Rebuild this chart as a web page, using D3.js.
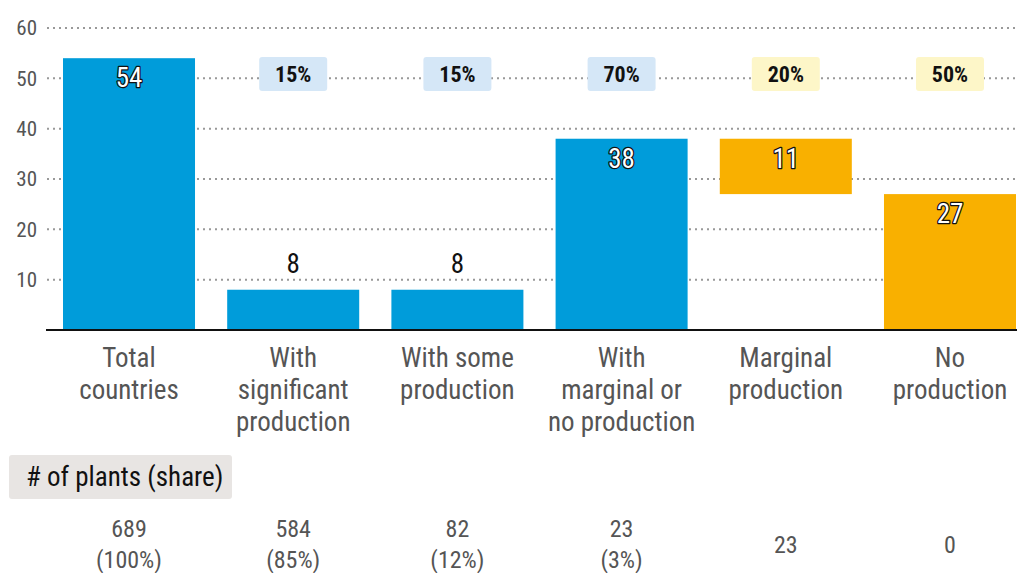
<!DOCTYPE html>
<html><head><meta charset="utf-8">
<script src="https://cdn.jsdelivr.net/npm/d3@7"></script>
<style>
body{margin:0;background:#fff;}
svg{display:block;}
text{font-family:"Liberation Sans Narrow","Roboto Condensed","Arial Narrow",Roboto,sans-serif;}
</style></head>
<body><svg id="chart" width="1017" height="573"></svg>
<script>
const categories = [["Total","countries"],["With","significant","production"],["With some","production"],["With","marginal or","no production"],["Marginal","production"],["No","production"]];
const barStart = [0,0,0,0,27,0];
const barEnd = [54,8,8,38,38,27];
const barLabels = ["54","8","8","38","11","27"];
const labelInside = [true,false,false,true,true,true];
const barColors = ["#009cda","#009cda","#009cda","#009cda","#f9b000","#f9b000"];
const badges = ["","15%","15%","70%","20%","50%"];
const badgeColors = ["","#d5e7f7","#d5e7f7","#d5e7f7","#fdf6c8","#fdf6c8"];
const plants = [["689","(100%)"],["584","(85%)"],["82","(12%)"],["23","(3%)"],["23"],["0"]];
const yTicks = [10,20,30,40,50,60];

const svg = d3.select("#chart");
const y = d3.scaleLinear().domain([0,60]).range([330,28]);
const x = d3.scaleBand().domain(d3.range(6)).range([63,1016]).paddingInner(0.196).paddingOuter(0);

// gridlines
svg.append("g").selectAll("line").data(yTicks).join("line")
  .attr("x1",47).attr("x2",1017).attr("y1",d=>y(d)).attr("y2",d=>y(d))
  .attr("stroke","#999").attr("stroke-width",2).attr("stroke-dasharray","2,4");
svg.append("g").selectAll("text").data(yTicks).join("text")
  .attr("x",37).attr("y",d=>y(d)).attr("dy","0.35em").attr("text-anchor","end")
  .attr("fill","#555").attr("font-size",21).text(d=>d);

// bars
svg.append("g").selectAll("rect").data(d3.range(6)).join("rect")
  .attr("x",i=>x(i)).attr("width",x.bandwidth())
  .attr("y",i=>y(barEnd[i])).attr("height",i=>y(barStart[i])-y(barEnd[i]))
  .attr("fill",i=>barColors[i]);

// baseline
svg.append("line").attr("x1",46).attr("x2",1017).attr("y1",y(0)).attr("y2",y(0))
  .attr("stroke","#111").attr("stroke-width",2);

// value labels
svg.append("g").selectAll("text").data(d3.range(6)).join("text")
  .attr("x",i=>x(i)+x.bandwidth()/2)
  .attr("y",i=>labelInside[i]? y(barEnd[i])+29 : y(barEnd[i])-17)
  .attr("text-anchor","middle").attr("font-size",27)
  .attr("fill",i=>labelInside[i]?"#fff":"#111")
  .attr("stroke",i=>labelInside[i]?"#111":"none").attr("stroke-width",2.5)
  .attr("paint-order","stroke").attr("stroke-linejoin","round")
  .text(i=>barLabels[i]);

// badges
const bd = svg.append("g").selectAll("g").data(d3.range(1,6)).join("g")
  .attr("transform",i=>`translate(${x(i)+x.bandwidth()/2},74)`);
bd.append("rect").attr("x",-34).attr("y",-17).attr("width",68).attr("height",34).attr("rx",3)
  .attr("fill",i=>badgeColors[i]);
bd.append("text").attr("text-anchor","middle").attr("dy","0.35em").attr("font-size",22)
  .attr("font-weight","bold").attr("fill","#111").text(i=>badges[i]);

// category labels
svg.append("g").selectAll("text").data(d3.range(6)).join("text")
  .attr("x",i=>x(i)+x.bandwidth()/2).attr("y",367)
  .attr("text-anchor","middle").attr("font-size",27).attr("fill","#555")
  .selectAll("tspan").data(i=>categories[i].map(t=>({t,i}))).join("tspan")
  .attr("x",d=>x(d.i)+x.bandwidth()/2).attr("dy",(d,k)=>k===0?0:32).text(d=>d.t);

// plants header
svg.append("rect").attr("x",9).attr("y",455).attr("width",223).attr("height",44).attr("rx",3).attr("fill","#e8e5e3");
svg.append("text").attr("x",26).attr("y",477).attr("dy","0.35em").attr("font-size",27).attr("fill","#111").text("# of plants (share)");

// plants values
svg.append("g").selectAll("text").data(d3.range(6)).join("text")
  .attr("x",i=>x(i)+x.bandwidth()/2).attr("y",i=>plants[i].length>1?537:553)
  .attr("text-anchor","middle").attr("font-size",24).attr("fill","#555")
  .selectAll("tspan").data(i=>plants[i].map(t=>({t,i}))).join("tspan")
  .attr("x",d=>x(d.i)+x.bandwidth()/2).attr("dy",(d,k)=>k===0?0:31).text(d=>d.t);
</script></body></html>
